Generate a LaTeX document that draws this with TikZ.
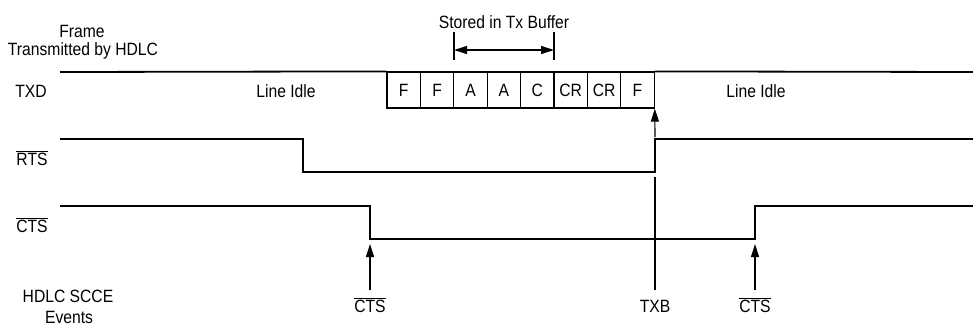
\documentclass[tikz,border=0pt]{standalone}
\usepackage{fontspec}
\setmainfont[FakeStretch=0.88]{Liberation Sans}
\usetikzlibrary{arrows.meta}
\tikzset{
  sig/.style={line width=1.8pt, line join=miter},
  thin line/.style={line width=1.1pt},
  tip/.tip={Triangle[length=13pt,width=8pt]},
  evarrow/.style={line width=1.1pt, -tip},
  bufarrow/.style={line width=1.1pt, tip-tip},
  lbl/.style={inner sep=0pt, anchor=base, font=\fontsize{17.8}{20}\selectfont},
  byte/.style={draw, line width=1.2pt, minimum width=33.4pt, minimum height=36pt, inner sep=0pt,
               font=\fontsize{17.8}{20}\selectfont},
}
\begin{document}
\begin{tikzpicture}[x=1pt,y=-1pt]
\useasboundingbox (0,0) rectangle (973,325);
% labels
\node[lbl] (frame1) at (82,37) {Frame};
\node[lbl] (frame2) at (83,55) {Transmitted by HDLC};
\node[lbl] (txd) at (31,97) {TXD};
\node[lbl] (rts) at (32,165) {$\overline{\mbox{RTS}}$};
\node[lbl] (cts) at (32,232) {$\overline{\mbox{CTS}}$};
\node[lbl] (hdlc1) at (68,302) {HDLC SCCE};
\node[lbl] (hdlc2) at (69,323) {Events};
\node[lbl] (idle1) at (286,97) {Line Idle};
\node[lbl] (idle2) at (756,97) {Line Idle};
\node[lbl] (stored) at (504,28) {Stored in Tx Buffer};
% bytes
\foreach \t [count=\i from 0] in {F,F,A,A,C,CR,CR,F}{
  \node[byte] (b\i) at ({387+33.4*(\i+0.5)},90) {\t};
}
% TXD line
\coordinate (txdL) at (60,72);
\coordinate (txdR) at (973,72);
\draw[sig] (txdL) -- (b0.north west);
\draw[sig] (b7.north east) -- (txdR);
% RTS
\coordinate (rtsL) at (60,139);
\coordinate (rtsR) at (973,139);
\draw[sig] (rtsL) -- (303,139) -- (303,172) -- (655,172) -- (655,139) -- (rtsR);
% CTS
\coordinate (ctsL) at (60,206);
\coordinate (ctsR) at (973,206);
\draw[sig] (ctsL) -- (370,206) -- (370,239) -- (755,239) -- (755,206) -- (ctsR);
% buffer span
\coordinate (t1a) at (454,32); \coordinate (t1b) at (454,60);
\coordinate (t2a) at (554,32); \coordinate (t2b) at (554,60);
\draw[thin line] (t1a) -- (t1b);
\draw[thin line] (t2a) -- (t2b);
\coordinate (ba) at (454,50); \coordinate (bb) at (554,50);
\draw[bufarrow] (ba) -- (bb);
% event labels
\node[lbl] (ev1) at (370,312) {$\overline{\mbox{CTS}}$};
\node[lbl] (ev2) at (655,312) {TXB};
\node[lbl] (ev3) at (755,312) {$\overline{\mbox{CTS}}$};
% event arrows
\coordinate (a1) at (370,290); \coordinate (a1t) at (370,244);
\coordinate (a2) at (655,290); \coordinate (a2m) at (655,177);
\coordinate (a2u) at (655,137);
\coordinate (a3) at (755,290); \coordinate (a3t) at (755,244);
\draw[evarrow] (a1) -- (a1t);
\draw[thin line] (a2) -- (a2m);
\draw[evarrow] (a2u) -- (b7.south east);
\draw[evarrow] (a3) -- (a3t);
\end{tikzpicture}
\end{document}
